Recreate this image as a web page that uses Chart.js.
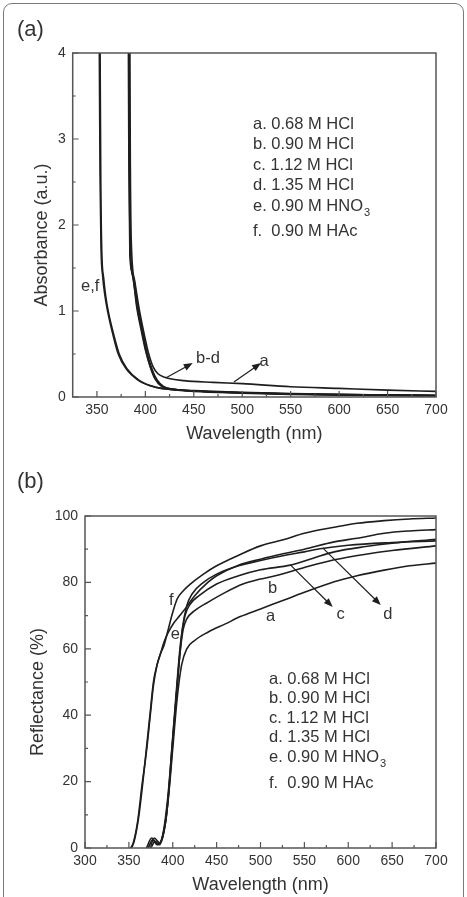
<!DOCTYPE html>
<html>
<head>
<meta charset="utf-8">
<script src="https://cdn.jsdelivr.net/npm/chart.js@4.4.1/dist/chart.umd.min.js"></script>
<style>
  html, body { margin: 0; padding: 0; background: #fff; overflow: hidden; }
  #wrap { position: relative; width: 467px; height: 897px; }
  canvas { position: absolute; left: 0; }
  #border { position: absolute; left: 3px; top: 3px; width: 459px; height: 930px;
            border: 1.5px solid #7a7a7a; border-radius: 9px; pointer-events: none; }
</style>
</head>
<body>
<div id="wrap">
  <canvas id="chartA" width="467" height="450" style="top:0"></canvas>
  <canvas id="chartB" width="467" height="450" style="top:450px"></canvas>
  <div id="border"></div>
</div>
<script>
// ---- panel (a): absorbance ----
const absXTicks = [350, 400, 450, 500, 550, 600, 650, 700];
const absYTicks = [0, 1, 2, 3, 4];

const absWlA = [384, 384.5, 385.5, 389, 394, 399, 403, 408, 413, 420, 440, 470, 500, 550, 600, 650, 700];
const absA   = [4, 2.7, 1.8, 1.35, 1.0, 0.72, 0.52, 0.35, 0.27, 0.23, 0.19, 0.17, 0.155, 0.12, 0.1, 0.08, 0.065];
const absWlB = [383, 383.5, 384.5, 387, 392, 397, 401, 406, 411, 418, 430, 450, 500, 550, 600, 650, 700];
const absB   = [4, 2.6, 1.7, 1.4, 1.02, 0.74, 0.52, 0.33, 0.2, 0.12, 0.09, 0.07, 0.05, 0.035, 0.028, 0.022, 0.018];
const absWlC = [382.5, 383, 384, 386.5, 391, 396, 400, 405, 410, 417, 430, 450, 500, 550, 600, 650, 700];
const absC   = [4, 2.7, 1.65, 1.45, 1.05, 0.76, 0.55, 0.35, 0.21, 0.12, 0.085, 0.065, 0.045, 0.03, 0.022, 0.017, 0.012];
const absWlD = [383.5, 384, 385, 388, 393, 398, 402, 407, 412, 419, 430, 450, 500, 550, 600, 650, 700];
const absD   = [4, 2.2, 1.6, 1.38, 1.0, 0.72, 0.5, 0.32, 0.2, 0.12, 0.09, 0.07, 0.05, 0.035, 0.025, 0.02, 0.015];
const absWlE = [352.5, 353.2, 354.2, 356, 358, 361, 366, 372, 380, 392, 405, 416, 450, 500, 550, 600, 650, 700];
const absE   = [4, 2.6, 1.75, 1.4, 1.2, 1.0, 0.75, 0.5, 0.33, 0.2, 0.13, 0.1, 0.075, 0.055, 0.04, 0.03, 0.025, 0.02];
const absWlF = [353.3, 354, 355, 357, 359, 362, 367, 373, 381, 393, 406, 417, 450, 500, 550, 600, 650, 700];
const absF   = [4, 2.5, 1.7, 1.38, 1.18, 0.98, 0.74, 0.5, 0.33, 0.2, 0.13, 0.1, 0.072, 0.05, 0.036, 0.028, 0.022, 0.018];

const absNotes  = [['e,f', 343, 1.28], ['b-d', 464.6, 0.45], ['a', 522.6, 0.41]];
const absArrows = [[420.9, 0.22, 448.9, 0.395], [491.4, 0.174, 519.4, 0.395]];

// ---- panel (b): reflectance ----
const reflXTicks = [300, 350, 400, 450, 500, 550, 600, 650, 700];
const reflYTicks = [0, 20, 40, 60, 80, 100];

const reflWlA = [375, 380, 385, 390, 395, 400, 405, 410, 416, 425, 440, 460, 477, 500, 527, 550, 584, 610, 641, 670, 700];
const reflA   = [0, 2, 1, 5, 15, 30, 45, 55, 60, 62.5, 65, 67.5, 69.7, 72, 74.7, 77, 80.2, 82, 83.7, 85, 85.8];
const reflWlB = [372, 377, 382, 388, 393, 398, 403, 408, 412, 416, 425, 440, 460, 480, 500, 517, 550, 584, 620, 650, 700];
const reflB   = [0, 2.5, 1, 3, 10, 25, 42, 58, 66, 69, 71.5, 74, 77, 79.5, 81, 82, 84.5, 86.8, 88.5, 89.6, 91];
const reflWlC = [370, 376, 383, 389, 394, 399, 404, 409, 414, 420, 430, 450, 475, 500, 534, 560, 584, 620, 650, 700];
const reflC   = [0, 3, 1, 4, 13, 30, 47, 62, 70, 73.5, 76, 79.5, 82, 83.8, 85.2, 87.3, 89.2, 90.8, 91.8, 93];
const reflWlD = [374, 379, 385, 390, 395, 400, 406, 411, 416, 422, 435, 450, 475, 500, 527, 550, 570, 600, 650, 700];
const reflD   = [0, 3, 1.5, 6, 17, 33, 52, 66, 73, 76.5, 80, 82.5, 85, 86.6, 88.1, 89.2, 90.2, 91.2, 92, 92.5];
const reflWlE = [352, 355, 360, 365, 370, 374, 378, 382, 386, 390, 395, 401, 408, 416, 425, 440, 450, 475, 500, 527, 550, 584, 610, 641, 670, 700];
const reflE   = [0, 1.5, 8, 19, 29, 39, 49, 55, 58.5, 62, 65, 67.7, 70, 72.7, 76, 80, 82, 85.2, 87, 88.7, 90, 92.2, 93.3, 94.8, 95.5, 95.9];
const reflWlF = [353, 356, 361, 366, 370, 374, 378, 382, 386, 390, 395, 400, 405, 412, 420, 435, 450, 475, 500, 527, 550, 584, 610, 641, 670, 700];
const reflF   = [0, 2, 9, 20, 30, 40, 50, 55, 58.5, 61, 66, 71, 75, 77.5, 79.5, 82.5, 85, 88.2, 91, 92.9, 94.8, 96.6, 97.8, 98.6, 99.1, 99.4];

const reflNotes  = [['f', 398.3, 74.7], ['e', 402.9, 64.2], ['b', 513.7, 78.3], ['a', 511.4, 69.6], ['c', 591.4, 70.2], ['d', 645.1, 70.2]];
const reflArrows = [[534.3, 85.2, 582.3, 72.6], [570.9, 90.4, 637.1, 73.2]];

const legendRows = [
  ['a. 0.68 M HCl', ''], ['b. 0.90 M HCl', ''], ['c. 1.12 M HCl', ''],
  ['d. 1.35 M HCl', ''], ['e. 0.90 M HNO', '3'], ['f.  0.90 M HAc', '']
];

Chart.defaults.font.family = '"Liberation Sans", Arial, sans-serif';
Chart.defaults.color = '#333';

const INK = '#1e1e1e';
const FONT = '"Liberation Sans", Arial, sans-serif';

function series(wl, vals) {
  return {
    data: wl.map((w, i) => ({ x: w, y: vals[i] })),
    borderColor: INK,
    borderWidth: 1.6,
    pointRadius: 0,
    cubicInterpolationMode: 'monotone',
    fill: false
  };
}

function arrow(ctx, x1, y1, x2, y2) {
  const ang = Math.atan2(y2 - y1, x2 - x1);
  ctx.beginPath();
  ctx.moveTo(x1, y1);
  ctx.lineTo(x2 - 6 * Math.cos(ang), y2 - 6 * Math.sin(ang));
  ctx.stroke();
  ctx.beginPath();
  ctx.moveTo(x2, y2);
  ctx.lineTo(x2 - 9 * Math.cos(ang) + 3.5 * Math.sin(ang), y2 - 9 * Math.sin(ang) - 3.5 * Math.cos(ang));
  ctx.lineTo(x2 - 9 * Math.cos(ang) - 3.5 * Math.sin(ang), y2 - 9 * Math.sin(ang) + 3.5 * Math.cos(ang));
  ctx.closePath();
  ctx.fill();
}

// frame, inward ticks, panel letter, legend and annotations
const decor = {
  id: 'decor',
  afterDraw(chart, args, o) {
    const { ctx, chartArea: a, scales: { x, y } } = chart;
    ctx.save();
    ctx.strokeStyle = '#555';
    ctx.lineWidth = 1.5;
    ctx.strokeRect(a.left, a.top, a.right - a.left, a.bottom - a.top);

    ctx.lineWidth = 1.2;
    ctx.beginPath();
    o.xTicks.forEach((v, i) => {
      const px = x.getPixelForValue(v);
      ctx.moveTo(px, a.bottom); ctx.lineTo(px, a.bottom - 6);
      if (i < o.xTicks.length - 1) {
        const m = x.getPixelForValue((v + o.xTicks[i + 1]) / 2);
        ctx.moveTo(m, a.bottom); ctx.lineTo(m, a.bottom - 3);
      }
    });
    o.yTicks.forEach((v, i) => {
      const py = y.getPixelForValue(v);
      ctx.moveTo(a.left, py); ctx.lineTo(a.left + 6, py);
      if (i < o.yTicks.length - 1) {
        const m = y.getPixelForValue((v + o.yTicks[i + 1]) / 2);
        ctx.moveTo(a.left, m); ctx.lineTo(a.left + 3, m);
      }
    });
    ctx.stroke();

    ctx.fillStyle = '#333';
    ctx.textBaseline = 'middle';
    ctx.font = '22px ' + FONT;
    ctx.fillText(o.letter, 17, o.letterY);

    ctx.font = '16.5px ' + FONT;
    legendRows.forEach((r, i) => {
      const ly = o.legY[i];
      ctx.fillText(r[0], o.legX, ly);
      if (r[1]) {
        const w = ctx.measureText(r[0]).width;
        ctx.font = '11px ' + FONT;
        ctx.fillText(r[1], o.legX + w + 1, ly + 7);
        ctx.font = '16.5px ' + FONT;
      }
    });

    ctx.textAlign = 'center';
    o.notes.forEach(n => ctx.fillText(n[0], x.getPixelForValue(n[1]), y.getPixelForValue(n[2])));

    ctx.strokeStyle = INK;
    ctx.fillStyle = INK;
    ctx.lineWidth = 1.2;
    o.arrows.forEach(r => arrow(ctx,
      x.getPixelForValue(r[0]), y.getPixelForValue(r[1]),
      x.getPixelForValue(r[2]), y.getPixelForValue(r[3])));
    ctx.restore();
  }
};

function makeChart(id, p) {
  return new Chart(document.getElementById(id), {
    type: 'line',
    data: { datasets: p.sets },
    plugins: [decor],
    options: {
      responsive: false,
      animation: false,
      layout: { padding: p.pad },
      plugins: {
        legend: { display: false },
        tooltip: { enabled: false },
        decor: p.decor
      },
      scales: {
        x: {
          type: 'linear',
          min: p.xMin, max: 700,
          afterBuildTicks: s => { s.ticks = p.decor.xTicks.map(v => ({ value: v })); },
          afterFit: s => { s.height = 52; },
          grid: { display: false, drawTicks: false },
          border: { display: false },
          ticks: { padding: 5, font: { size: 14 }, color: '#333', maxRotation: 0 },
          title: { display: true, text: 'Wavelength (nm)', font: { size: 18 }, color: '#333', padding: 4 }
        },
        y: {
          min: 0, max: p.yMax,
          afterBuildTicks: s => { s.ticks = p.decor.yTicks.map(v => ({ value: v })); },
          afterFit: s => { s.width = p.yWidth; },
          grid: { display: false, drawTicks: false },
          border: { display: false },
          ticks: { padding: 7, font: { size: 14 }, color: '#333' },
          // trailing spaces nudge the rotated title a little below the axis centre, as in the original
          title: { display: true, text: p.yTitle + '    ', font: { size: 18 }, color: '#333', padding: 4 }
        }
      }
    }
  });
}

makeChart('chartA', {
  sets: [series(absWlA, absA), series(absWlB, absB), series(absWlC, absC),
         series(absWlD, absD), series(absWlE, absE), series(absWlF, absF)],
  pad: { left: 27.2, right: 31, top: 53, bottom: 1 },
  yWidth: 45.5, xMin: 325, yMax: 4, yTitle: 'Absorbance (a.u.)',
  decor: {
    xTicks: absXTicks, yTicks: absYTicks, letter: '(a)', letterY: 30,
    legX: 253, legY: [124, 144, 165, 185, 206, 231],
    notes: absNotes, arrows: absArrows
  }
});

makeChart('chartB', {
  sets: [series(reflWlA, reflA), series(reflWlB, reflB), series(reflWlC, reflC),
         series(reflWlD, reflD), series(reflWlE, reflE), series(reflWlF, reflF)],
  pad: { left: 23.2, right: 31, top: 66, bottom: 0 },
  yWidth: 61.8, xMin: 300, yMax: 100, yTitle: 'Reflectance (%)',
  decor: {
    xTicks: reflXTicks, yTicks: reflYTicks, letter: '(b)', letterY: 32,
    legX: 269, legY: [229, 248, 268, 287, 307, 333],
    notes: reflNotes, arrows: reflArrows
  }
});
</script>
</body>
</html>
